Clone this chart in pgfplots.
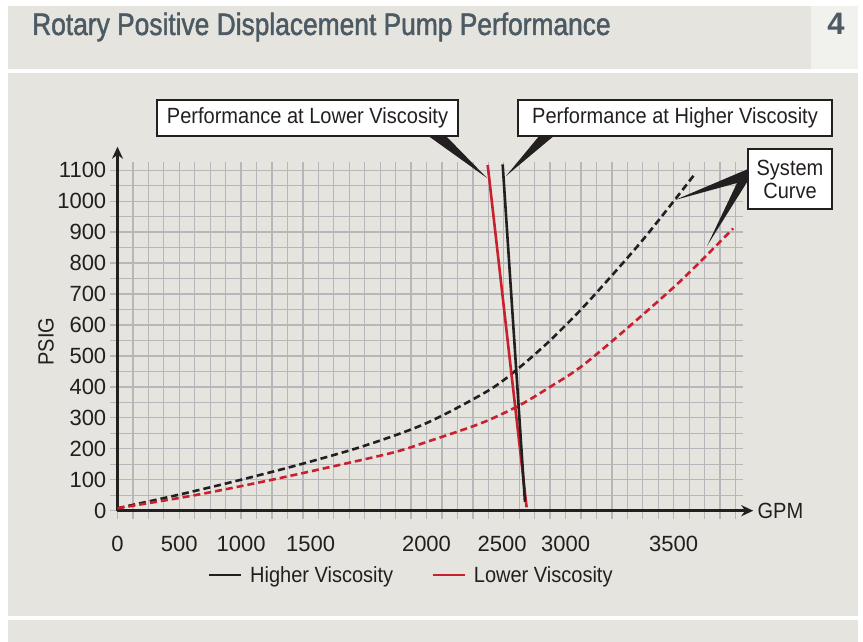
\documentclass[border=0pt]{standalone}
\usepackage{fontspec}
\setmainfont{Liberation Sans}[FakeStretch=0.91]
\newfontfamily\titlefont{Liberation Sans}[FakeStretch=0.85, FakeBold=1.5]
\newfontfamily\numfont{Liberation Sans}
\usepackage{pgfplots}
\pgfplotsset{compat=1.18}
\usetikzlibrary{arrows.meta}
\definecolor{panel}{HTML}{E5E4DE}
\definecolor{cell}{HTML}{F1F1ED}
\definecolor{slate}{HTML}{4B5A63}
\definecolor{ink}{HTML}{231F20}
\definecolor{pred}{HTML}{C8202F}
\definecolor{gridc}{HTML}{B6B6BB}
\begin{document}
\begin{tikzpicture}[font=\fontsize{22}{26}\selectfont, text=ink]
\begin{scope}[shift={(-109.775pt,519.06pt)}, x=1pt, y=-1pt]
 \useasboundingbox (0,0) rectangle (863,642);
 \fill[white] (0,0) rectangle (863,642);
 \fill[panel] (8,6) rectangle (811,69);
 \fill[cell] (811,6) rectangle (858,69);
 \fill[panel] (8,73) rectangle (858,616);
 \fill[panel] (8,620) rectangle (858,642);
 \node[anchor=base west, text=slate, font=\titlefont\fontsize{31}{34}\selectfont, inner sep=0pt] at (32,35) {Rotary Positive Displacement Pump Performance};
 \node[anchor=base, text=slate, font=\numfont\bfseries\fontsize{31}{34}\selectfont, inner sep=0pt] at (836,35) {4};
\end{scope}
\begin{axis}[
 x=0.1545pt, y=0.3095pt,
 xmin=-50, xmax=4050, ymin=-27, ymax=1128,
 axis line style={draw=none},
 clip=false,
 /pgf/number format/assume math mode=true,
 xtick={0,100,...,4000}, ytick={0,50,...,1100},
 xticklabels={}, yticklabels={},
 major tick length=0pt,
 grid=major,
 major grid style={gridc, line width=1.3pt},
 extra x ticks={0,400,800,1250,2000,2490,2900,3600},
 extra x tick labels={0,500,1000,1500,2000,2500,3000,3500},
 extra y ticks={0,100,200,300,400,500,600,700,800,900,1000,1100},
 extra y tick labels={0,100,200,300,400,500,600,700,800,900,1000,1100},
 extra tick style={grid=none, major tick length=0pt},
 xticklabel style={yshift=-14pt},
 tick label style={text=ink, font=\numfont\fontsize{22}{26}\selectfont},
 legend image code/.code={\draw[#1] (0pt,0pt) -- (32pt,0pt);},
 legend style={at={(axis cs:1900,-208)}, anchor=center, draw=none, fill=none,
   legend columns=2,
   /tikz/every odd column/.append style={column sep=6pt},
   /tikz/every even column/.append style={column sep=36pt},
   font=\fontsize{22}{26}\selectfont, text=ink},
]
\addlegendimage{ink, line width=2.6pt}
\addlegendentry{Higher Viscosity}
\addlegendimage{pred, line width=2.6pt}
\addlegendentry{Lower Viscosity}
\draw[ink, line width=2.8pt, -{Stealth[length=12pt,width=11pt]}] (axis cs:0,0) -- (axis cs:4115,0);
\draw[ink, line width=2.8pt, -{Stealth[length=12pt,width=11pt]}] (axis cs:0,-1) -- (axis cs:0,1176);
% system curves
\addplot[ink, line width=2.6pt, dash pattern=on 7pt off 4pt, smooth, forget plot] coordinates {
 (0,8) (400,52) (800,100) (1200,152) (1600,210) (2000,283) (2400,388) (2600,462) (2800,550) (3000,650) (3200,760) (3400,875) (3600,1000) (3740,1090)};
\addplot[pred, line width=2.6pt, dash pattern=on 7pt off 4pt, smooth, forget plot] coordinates {
 (0,8) (500,50) (1000,100) (1500,155) (1800,190) (2000,222) (2350,282) (2600,340) (2800,400) (3000,465) (3300,590) (3650,745) (3985,912)};
% pump performance
\addplot[pred, line width=2.6pt, forget plot] coordinates {(2396,1117) (2648,11)};
\addplot[ink, line width=2.6pt, forget plot] coordinates {(2493,1119) (2637,29)};
\node at (axis cs:4291,0) {GPM};
\node[rotate=90] at (axis cs:-463,546) {PSIG};
\end{axis}
\begin{scope}[shift={(-109.775pt,519.06pt)}, x=1pt, y=-1pt]
 \fill[ink] (427,135) -- (445,135) -- (487,178) -- cycle;
 \fill[ink] (540,135) -- (555,135) -- (506,176) -- cycle;
 \fill[ink] (748,169) -- (675,200) -- (737,183) -- (707,246) -- (749,179) -- cycle;
 \node[draw=ink, line width=1.8pt, fill=white, minimum width=301pt, minimum height=36pt, inner sep=0pt] at (307.5,118) {Performance at Lower Viscosity};
 \node[draw=ink, line width=1.8pt, fill=white, minimum width=314pt, minimum height=36pt, inner sep=0pt] at (675,118) {Performance at Higher Viscosity};
 \node[draw=ink, line width=1.8pt, fill=white, minimum width=84pt, minimum height=60pt, inner sep=0pt, align=center, font=\fontsize{22}{23}\selectfont] at (790,179) {System\\Curve};
\end{scope}
\end{tikzpicture}
\end{document}
